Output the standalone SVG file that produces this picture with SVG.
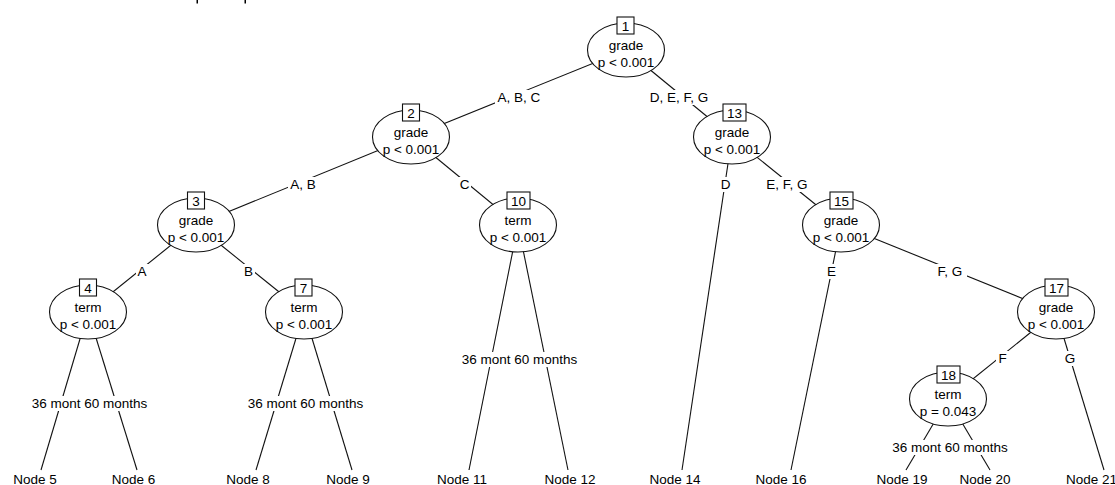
<svg xmlns="http://www.w3.org/2000/svg" width="1115" height="485" viewBox="0 0 1115 485">
<style>
text{font-family:"Liberation Sans",Arial,sans-serif;font-size:13.5px;fill:#000;text-anchor:middle}
.e{stroke:#111;stroke-width:1.1;fill:none}
.n ellipse{fill:#fff;stroke:#111;stroke-width:1.1}
.n rect{fill:#fff;stroke:#111;stroke-width:1.1}
.bg{fill:#fff;stroke:none}
.s{text-anchor:start}
</style>
<rect width="1115" height="485" fill="#fff"/>
<g id="cut-title">
<rect x="196.5" y="0" width="1.5" height="3.5" fill="#000"/>
<rect x="244.5" y="0" width="1.5" height="3.5" fill="#000"/>
</g>
<g id="connectors">
<line class="e" x1="626" y1="50" x2="411" y2="137"/>
<line class="e" x1="626" y1="50" x2="732" y2="137"/>
<line class="e" x1="411" y1="137" x2="196" y2="225"/>
<line class="e" x1="411" y1="137" x2="518" y2="225"/>
<line class="e" x1="732" y1="137" x2="682" y2="470"/>
<line class="e" x1="732" y1="137" x2="841" y2="225"/>
<line class="e" x1="196" y1="225" x2="88" y2="312"/>
<line class="e" x1="196" y1="225" x2="304" y2="312"/>
<line class="e" x1="518" y1="225" x2="469" y2="470"/>
<line class="e" x1="518" y1="225" x2="568" y2="470"/>
<line class="e" x1="841" y1="225" x2="791" y2="470"/>
<line class="e" x1="841" y1="225" x2="1056" y2="312"/>
<line class="e" x1="88" y1="312" x2="41" y2="470"/>
<line class="e" x1="88" y1="312" x2="137" y2="470"/>
<line class="e" x1="304" y1="312" x2="256" y2="470"/>
<line class="e" x1="304" y1="312" x2="352" y2="470"/>
<line class="e" x1="1056" y1="312" x2="948" y2="399"/>
<line class="e" x1="1056" y1="312" x2="1104" y2="470"/>
<line class="e" x1="948" y1="399" x2="906" y2="470"/>
<line class="e" x1="948" y1="399" x2="990" y2="470"/>
<!-- edge labels -->
<rect class="bg" x="495" y="90" width="48" height="15"/><text x="519" y="102">A, B, C</text>
<rect class="bg" x="647" y="90" width="64" height="15"/><text x="679" y="102">D, E, F, G</text>
<rect class="bg" x="288" y="177" width="30" height="15"/><text x="303" y="189">A, B</text>
<rect class="bg" x="458" y="177" width="13" height="15"/><text x="464.5" y="189">C</text>
<rect class="bg" x="719" y="177" width="13" height="15"/><text x="725.5" y="189">D</text>
<rect class="bg" x="763" y="177" width="48" height="15"/><text x="787" y="189">E, F, G</text>
<rect class="bg" x="136" y="264" width="13" height="15"/><text x="142" y="276">A</text>
<rect class="bg" x="242" y="264" width="13" height="15"/><text x="248.5" y="276">B</text>
<rect class="bg" x="825" y="264" width="13" height="15"/><text x="831.5" y="276">E</text>
<rect class="bg" x="934" y="264" width="33" height="15"/><text x="950" y="276">F, G</text>
<rect class="bg" x="996" y="351" width="13" height="15"/><text x="1002.5" y="363">F</text>
<rect class="bg" x="1063" y="351" width="14" height="15"/><text x="1070" y="363">G</text>
<!-- terminal split labels -->
<rect class="bg" x="29" y="396" width="121" height="15"/><text x="89.5" y="408">36 mont 60 months</text>
<rect class="bg" x="245" y="396" width="121" height="15"/><text x="305.5" y="408">36 mont 60 months</text>
<rect class="bg" x="459" y="352" width="121" height="15"/><text x="519.5" y="364">36 mont 60 months</text>
<rect class="bg" x="890" y="440" width="121" height="15"/><text x="950" y="452">36 mont 60 months</text>
</g>
<g id="node1" class="n"><ellipse cx="626" cy="50" rx="38.5" ry="27"/><rect x="617" y="17" width="17" height="17"/><text x="625.5" y="31">1</text><text x="626" y="50">grade</text><text x="626" y="67">p &lt; 0.001</text></g>
<g id="node2" class="n"><ellipse cx="411" cy="137" rx="38.5" ry="27"/><rect x="402.5" y="104" width="17" height="17"/><text x="411" y="118">2</text><text x="411" y="137">grade</text><text x="411" y="154">p &lt; 0.001</text></g>
<g id="node13" class="n"><ellipse cx="732" cy="137" rx="38.5" ry="27"/><rect x="723" y="104" width="23" height="17"/><text x="734.5" y="118">13</text><text x="732" y="137">grade</text><text x="732" y="154">p &lt; 0.001</text></g>
<g id="node3" class="n"><ellipse cx="196" cy="225" rx="38.5" ry="27"/><rect x="187.5" y="192" width="17" height="17"/><text x="196" y="206">3</text><text x="196" y="225">grade</text><text x="196" y="242">p &lt; 0.001</text></g>
<g id="node10" class="n"><ellipse cx="518" cy="225" rx="38.5" ry="27"/><rect x="507" y="192" width="23" height="17"/><text x="518.5" y="206">10</text><text x="518" y="225">term</text><text x="518" y="242">p &lt; 0.001</text></g>
<g id="node15" class="n"><ellipse cx="841" cy="225" rx="38.5" ry="27"/><rect x="830" y="192" width="23" height="17"/><text x="841.5" y="206">15</text><text x="841" y="225">grade</text><text x="841" y="242">p &lt; 0.001</text></g>
<g id="node4" class="n"><ellipse cx="88" cy="312" rx="38.5" ry="27"/><rect x="79.5" y="279" width="17" height="17"/><text x="88" y="293">4</text><text x="88" y="312">term</text><text x="88" y="329">p &lt; 0.001</text></g>
<g id="node7" class="n"><ellipse cx="304" cy="312" rx="38.5" ry="27"/><rect x="295" y="279" width="17" height="17"/><text x="303.5" y="293">7</text><text x="304" y="312">term</text><text x="304" y="329">p &lt; 0.001</text></g>
<g id="node17" class="n"><ellipse cx="1056" cy="312" rx="38.5" ry="27"/><rect x="1045" y="279" width="23" height="17"/><text x="1056.5" y="293">17</text><text x="1056" y="312">grade</text><text x="1056" y="329">p &lt; 0.001</text></g>
<g id="node18" class="n"><ellipse cx="948" cy="399" rx="38.5" ry="27"/><rect x="937" y="366" width="23" height="17"/><text x="948.5" y="380">18</text><text x="948" y="399">term</text><text x="948" y="416">p = 0.043</text></g>
<g id="node5"><text x="35" y="484">Node 5</text></g>
<g id="node6"><text x="133.5" y="484">Node 6</text></g>
<g id="node8"><text x="248" y="484">Node 8</text></g>
<g id="node9"><text x="348" y="484">Node 9</text></g>
<g id="node11"><text x="462" y="484">Node 11</text></g>
<g id="node12"><text x="570" y="484">Node 12</text></g>
<g id="node14"><text x="675" y="484">Node 14</text></g>
<g id="node16"><text x="781" y="484">Node 16</text></g>
<g id="node19"><text x="902" y="484">Node 19</text></g>
<g id="node20"><text x="985" y="484">Node 20</text></g>
<g id="node21"><text class="s" x="1066" y="484">Node 21</text></g>
</svg>
